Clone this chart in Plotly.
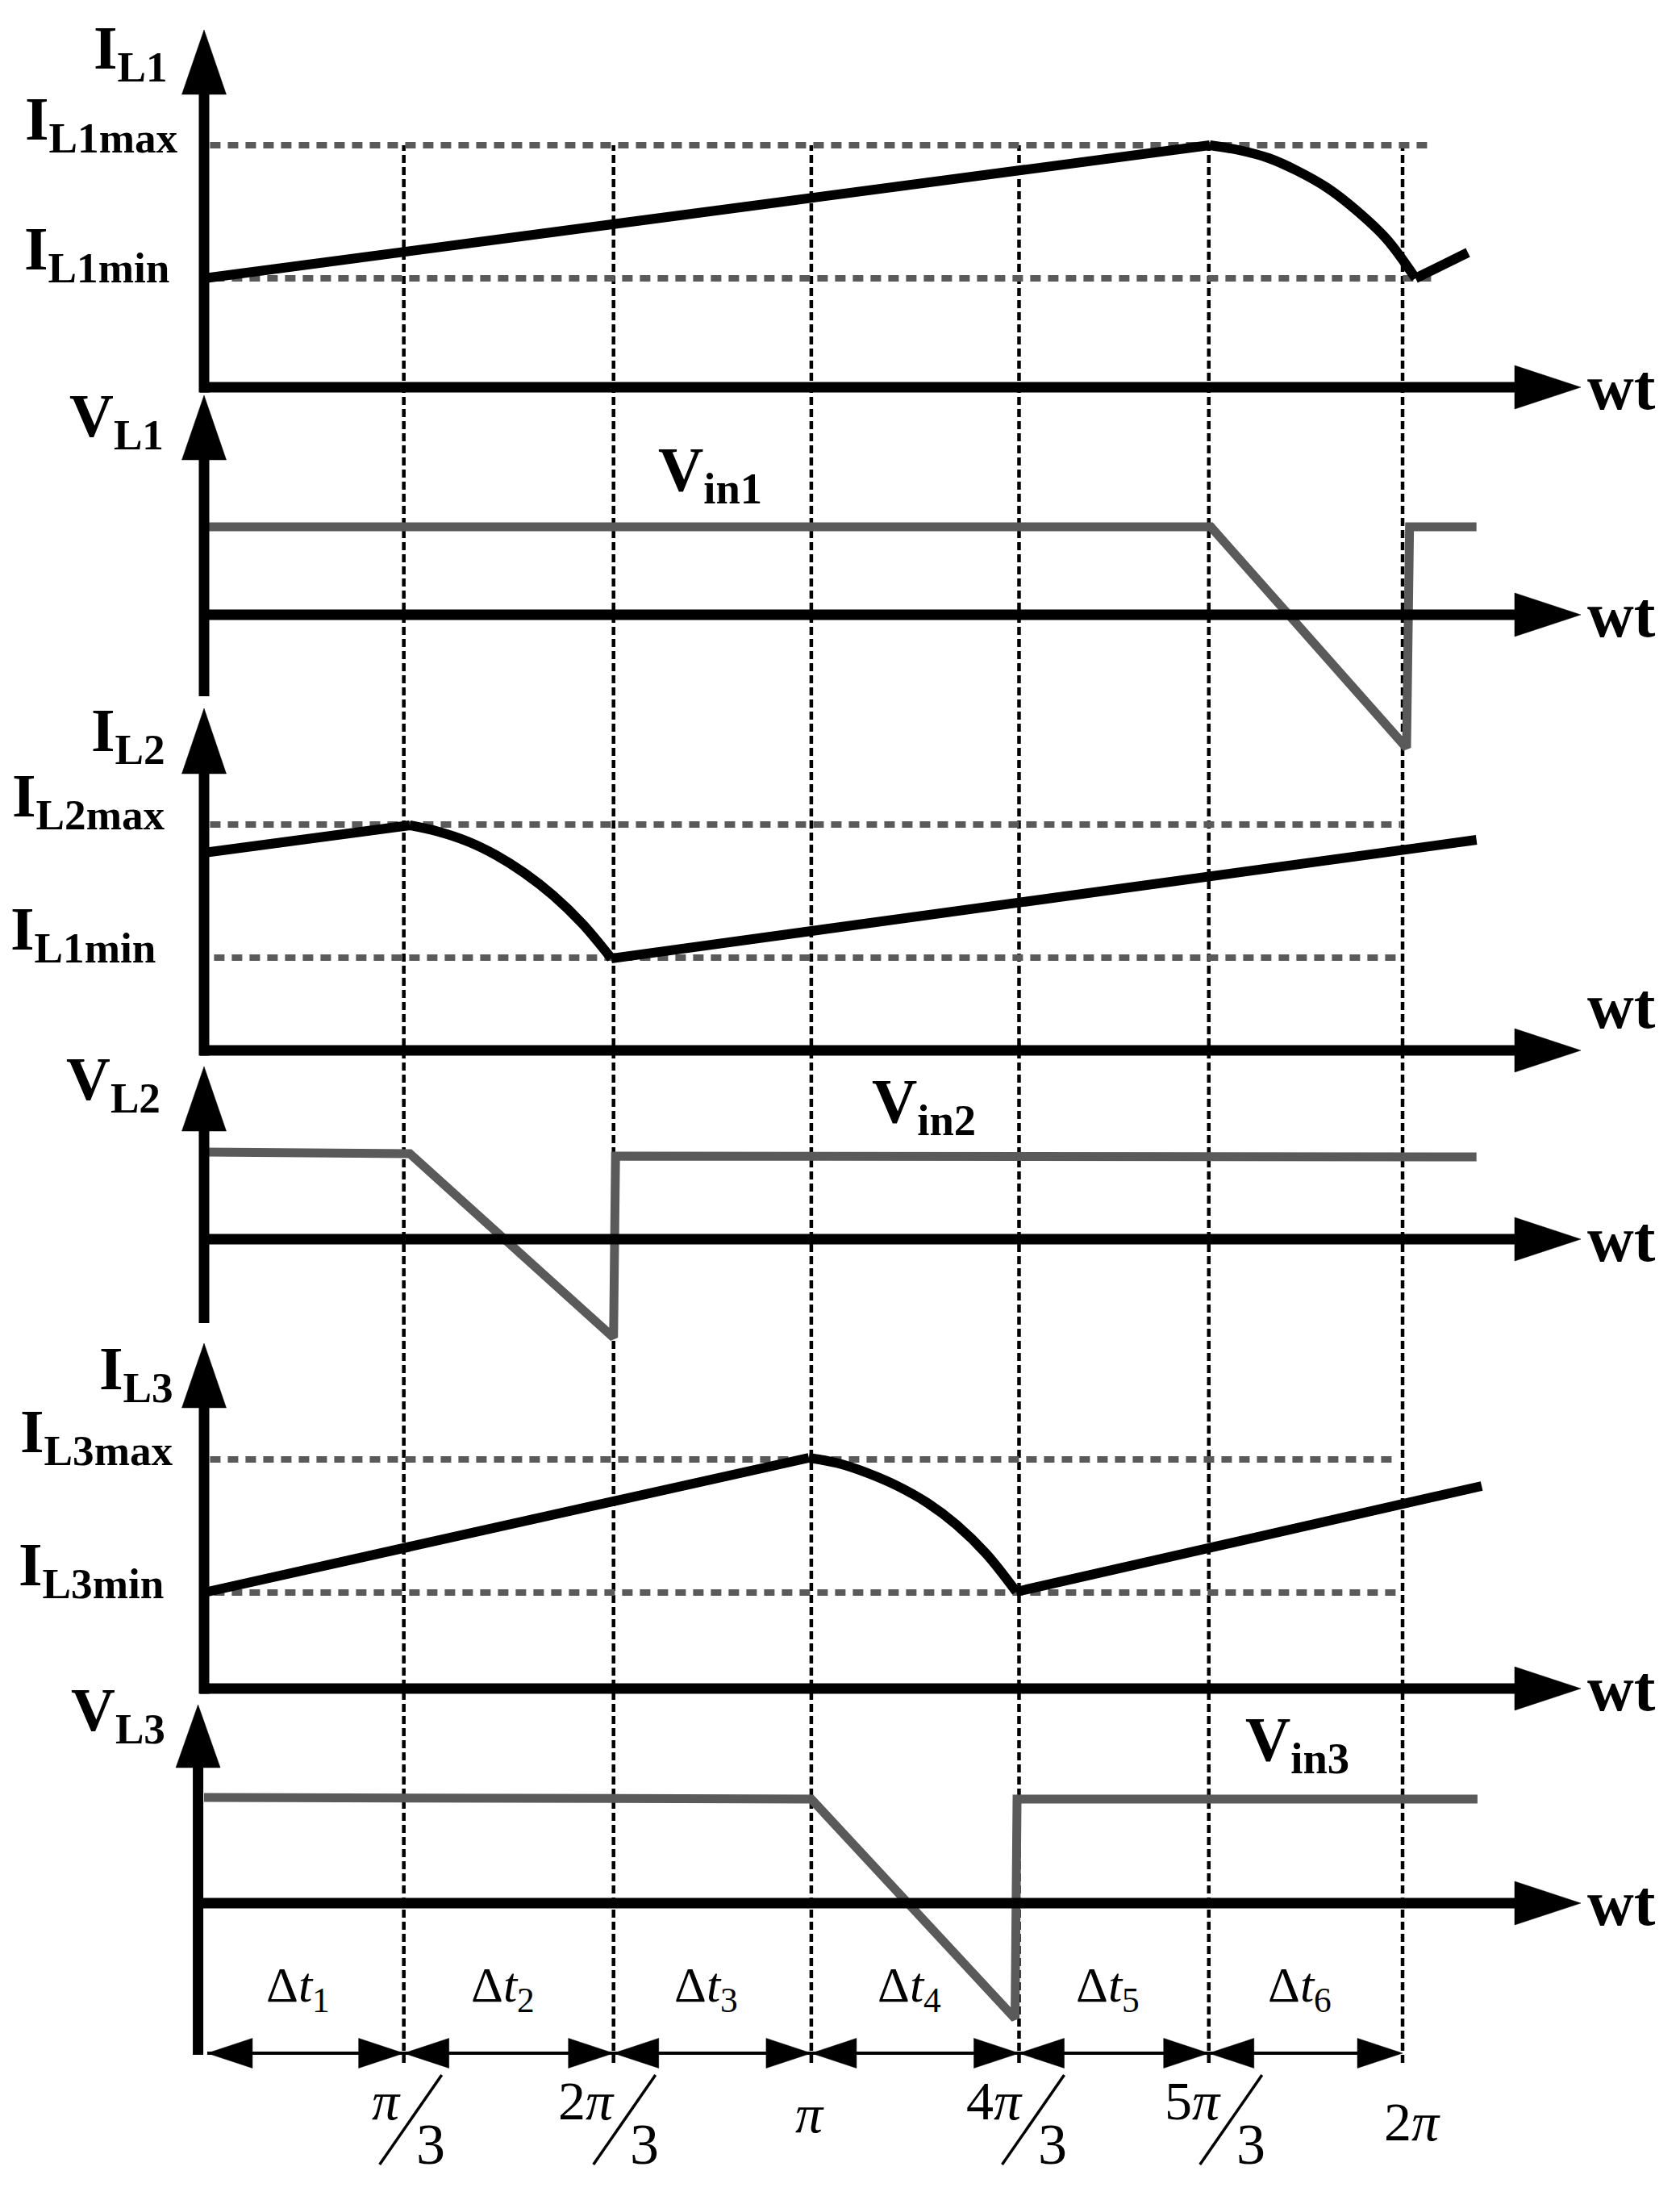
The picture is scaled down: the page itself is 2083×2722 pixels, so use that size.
import plotly.graph_objects as go

# ---------------- canvas / scale (layout) ----------------
W, H = 2083, 2722              # page size
OFF = 8                        # browser default body margin
FW, FH = W - 2 * OFF, H - 2 * OFF
X0_PX, UX = 253.0, 247.67      # page pixel of wt=0 and pixels per (pi/3)
UY = 100.0                     # pixels per value unit (all panels)
BLACK, GRAY = "#000000", "#5a5a5a"
FONT = "Liberation Serif"

# ---------------- data (wt in units of pi/3) ----------------
boundary_x = [0.0, 1.0, 2.05, 3.04, 4.08, 5.03, 6.0]
tick_numerators = ["<i>π</i>", "2<i>π</i>", "<i>π</i>", "4<i>π</i>", "5<i>π</i>", "2<i>π</i>"]
tick_denominators = ["3", "3", "", "3", "3", ""]
interval_labels = ["Δ<i>t</i><sub>1</sub>", "Δ<i>t</i><sub>2</sub>", "Δ<i>t</i><sub>3</sub>",
                   "Δ<i>t</i><sub>4</sub>", "Δ<i>t</i><sub>5</sub>", "Δ<i>t</i><sub>6</sub>"]

il1_x = [0.0, 5.035, 5.180, 5.330, 5.475, 5.624, 5.770, 5.919, 6.065, 6.327]
il1_y = [1.35, 3.00, 2.94, 2.84, 2.68, 2.47, 2.19, 1.84, 1.35, 1.67]
il1_max, il1_min = 3.00, 1.35

vl1_x = [0.0, 5.04, 6.02, 6.035, 6.37]
vl1_y = [1.09, 1.09, -1.65, 1.09, 1.09]

il2_x = [0.0, 1.030, 1.175, 1.320, 1.462, 1.603, 1.748, 1.894, 2.039, 6.37]
il2_y = [2.45, 2.79, 2.71, 2.59, 2.42, 2.20, 1.92, 1.57, 1.14, 2.61]
il2_max, il2_min = 2.80, 1.15

vl2_x = [0.0, 1.03, 2.05, 2.06, 6.37]
vl2_y = [1.08, 1.06, -1.22, 1.03, 1.02]

il3_x = [0.0, 3.028, 3.178, 3.323, 3.472, 3.622, 3.767, 3.916, 4.066, 6.396]
il3_y = [1.19, 2.86, 2.79, 2.67, 2.51, 2.30, 2.03, 1.67, 1.20, 2.51]
il3_max, il3_min = 2.84, 1.19

vl3_x = [0.0, 3.04, 4.06, 4.07, 6.375]
vl3_y = [1.31, 1.29, -1.43, 1.29, 1.29]

# ---------------- panel layout ----------------
panels = [
    dict(base=480,  ax=0.0,   tip=4.43, head=3.63, bottom=0.0),
    dict(base=762,  ax=0.0,   tip=2.72, head=1.92, bottom=-1.01),
    dict(base=1302, ax=0.0,   tip=4.24, head=3.43, bottom=0.0),
    dict(base=1536, ax=0.0,   tip=2.14, head=1.34, bottom=-1.04),
    dict(base=2093, ax=0.0,   tip=4.28, head=3.48, bottom=0.0),
    dict(base=2359, ax=-0.03, tip=2.46, head=1.68, bottom=-1.88),
]

def yref(k):
    return "y" if k == 0 else f"y{k + 1}"

def px_x(px):
    return (px - X0_PX) / UX

def paper_y(page_px):
    return 1 - (page_px - OFF) / FH

fig = go.Figure()
shapes, annotations = [], []

def line(x0, y0, x1, y1, ref, color=BLACK, width=13, dash=None, layer="above"):
    d = dict(type="line", xref="x", yref=ref, x0=x0, y0=y0, x1=x1, y1=y1,
             line=dict(color=color, width=width), layer=layer)
    if dash:
        d["line"]["dash"] = dash
    shapes.append(d)

def tri(pts, ref):
    path = "M " + " L ".join(f"{x},{y}" for x, y in pts) + " Z"
    shapes.append(dict(type="path", xref="x", yref=ref, path=path,
                       fillcolor=BLACK, line=dict(color=BLACK, width=0.5), layer="above"))

def text(t, x, y, ref, size, xanchor="center", bold=False):
    has_sub = "<sub>" in t
    shift = (0.38 if has_sub else 0.338) * size
    if bold:
        t = f"<b>{t}</b>"
    annotations.append(dict(text=t, x=x, y=y, xref="x", yref=ref, showarrow=False,
                            xanchor=xanchor, yanchor="middle", yshift=shift,
                            font=dict(family=FONT, size=size, color=BLACK)))

# ---- vertical dashed phase lines ----
for bx in boundary_x[1:]:
    shapes.append(dict(type="line", xref="x", yref="paper", x0=bx, x1=bx,
                       y0=paper_y(2557), y1=paper_y(180),
                       line=dict(color=BLACK, width=4.5, dash="10px,5px"), layer="below"))

# ---- dotted level lines ----
levels = [(0, il1_max, 0.03, 6.15), (0, il1_min, 0.05, 6.16),
          (2, il2_max, 0.03, 5.99), (2, il2_min, 0.05, 5.99),
          (4, il3_max, 0.03, 5.98), (4, il3_min, 0.05, 5.98)]
for k, lv, xa, xb in levels:
    line(xa, lv, xb, lv, yref(k), color=GRAY, width=8, dash="13px,9px", layer="below")

# ---- axes with arrows ----
AX_END, AX_TIP = px_x(1878), px_x(1960)
for k, p in enumerate(panels):
    r = yref(k)
    ax = p["ax"]
    bot = p["bottom"] - (0.065 if p["bottom"] == 0 else 0)
    line(ax, bot, ax, p["head"] + 0.05, r)
    tri([(ax - 27.5 / UX, p["head"]), (ax + 27.5 / UX, p["head"]), (ax, p["tip"])], r)
    line(ax - 0.02, 0, AX_END + 0.02, 0, r)
    tri([(AX_END, 27 / UY), (AX_END, -27 / UY), (AX_TIP, 0)], r)

# ---- waveforms ----
# (x, y, panel, colour, width, index range drawn as a smooth curve or None)
series = [(il1_x, il1_y, 0, BLACK, 12, (1, 8)), (vl1_x, vl1_y, 1, GRAY, 11, None),
          (il2_x, il2_y, 2, BLACK, 12, (1, 8)), (vl2_x, vl2_y, 3, GRAY, 11, None),
          (il3_x, il3_y, 4, BLACK, 12, (1, 8)), (vl3_x, vl3_y, 5, GRAY, 11, None)]
for xs, ys, k, col, w, span in series:
    if span is None:
        parts = [(xs, ys, "linear")]
    else:
        a, b = span
        parts = [(xs[:a + 1], ys[:a + 1], "linear"),
                 (xs[a:b + 1], ys[a:b + 1], "spline"),
                 (xs[b:], ys[b:], "linear")]
    for px_, py_, shp in parts:
        fig.add_trace(go.Scatter(x=px_, y=py_, mode="lines", xaxis="x", yaxis=yref(k),
                                 line=dict(color=col, width=w, shape=shp),
                                 hoverinfo="skip", showlegend=False))

# ---- bottom interval arrows (panel 6 axis) ----
r6 = yref(5)
B6 = panels[5]["base"]
Y_ARR = (B6 - 2545) / UY
HL, HH = 56 / UX, 18.5 / UY
starts = [0.016] + boundary_x[1:-1]
line(starts[0], Y_ARR, boundary_x[-1] - 0.02, Y_ARR, r6, width=4)
for i in range(6):
    xs_, xe_ = starts[i], boundary_x[i + 1]
    tri([(xs_ + HL, Y_ARR + HH), (xs_ + HL, Y_ARR - HH), (xs_, Y_ARR)], r6)
    tri([(xe_ - HL, Y_ARR + HH), (xe_ - HL, Y_ARR - HH), (xe_, Y_ARR)], r6)
    mid = (boundary_x[i] + boundary_x[i + 1]) / 2 - 0.03
    text(interval_labels[i], mid, (B6 - 2488) / UY, r6, 62)

# ---- tick labels (fractions) ----
num_off_px = [-2, 3, -2, 7, 17, 12]
for i in range(6):
    bx = boundary_x[i + 1]
    if tick_denominators[i]:
        n_right = bx + num_off_px[i] / UX
        text(tick_numerators[i], n_right, (B6 - 2627) / UY, r6, 68, xanchor="right")
        line(n_right + 49 / UX, (B6 - 2572) / UY,
             n_right - 28 / UX, (B6 - 2683) / UY, r6, width=3.5)
        text(tick_denominators[i], n_right + 15 / UX, (B6 - 2682) / UY, r6, 72,
             xanchor="left")
    else:
        base_px = 2643 if i == 2 else 2653
        text(tick_numerators[i], bx + num_off_px[i] / UX, (B6 - base_px) / UY, r6, 68)

# ---- axis / level labels ----
labels = [
    ("I<sub>L1</sub>", 0, 210, 3.86), ("I<sub>L1max</sub>", 0, 223, il1_max - 0.02),
    ("I<sub>L1min</sub>", 0, 212, il1_min + 0.02), ("V<sub>L1</sub>", 1, 205, 2.12),
    ("I<sub>L2</sub>", 2, 207, 3.62), ("I<sub>L2max</sub>", 2, 207, il2_max + 0.01),
    ("I<sub>L1min</sub>", 2, 195, il2_min + 0.01), ("V<sub>L2</sub>", 3, 201, 1.64),
    ("I<sub>L3</sub>", 4, 217, 3.62), ("I<sub>L3max</sub>", 4, 217, il3_max),
    ("I<sub>L3min</sub>", 4, 205, il3_min), ("V<sub>L3</sub>", 5, 207, 2.05),
]
for t, k, rpx, yb in labels:
    text(t, px_x(rpx), yb, yref(k), 76, xanchor="right", bold=True)

vin_labels = [("V<sub>in1</sub>", 1, 880, 1.45), ("V<sub>in2</sub>", 3, 1145, 1.36),
              ("V<sub>in3</sub>", 5, 1608, 1.68)]
for t, k, cpx, yb in vin_labels:
    text(t, px_x(cpx), yb, yref(k), 78, bold=True)

for k in range(6):
    text("wt", px_x(1966), 0.55 if k == 2 else 0.0, yref(k), 80, xanchor="left", bold=True)
    annotations[-1]["yshift"] = 0

# ---- layout ----
X0F = X0_PX - OFF
lay = dict(width=FW, height=FH, margin=dict(l=0, r=0, t=0, b=0),
           paper_bgcolor="white", plot_bgcolor="white", showlegend=False,
           xaxis=dict(range=[-X0F / UX, (FW - X0F) / UX], visible=False,
                      domain=[0, 1], fixedrange=True),
           shapes=shapes, annotations=annotations)
for k, p in enumerate(panels):
    key = "yaxis" if k == 0 else f"yaxis{k + 1}"
    bf = p["base"] - OFF
    ax = dict(range=[(bf - FH) / UY, bf / UY], visible=False,
              domain=[0, 1], anchor="x", fixedrange=True)
    if k > 0:
        ax["overlaying"] = "y"
    lay[key] = ax
fig.update_layout(**lay)

fig.write_html("out.html")
